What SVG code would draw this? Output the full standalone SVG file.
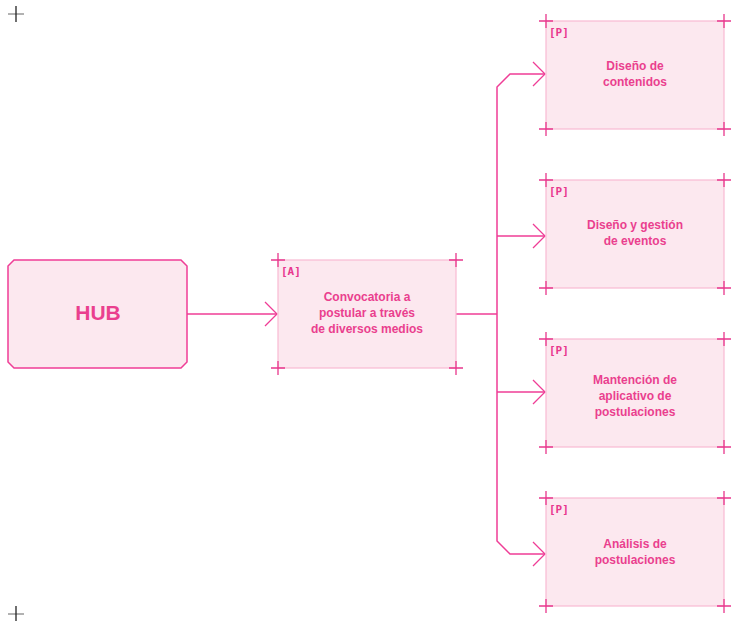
<svg xmlns="http://www.w3.org/2000/svg" width="736" height="621" viewBox="0 0 736 621">
  <style>
    .box { fill: #fce8ef; stroke: #f8b9d3; stroke-width: 1.2; }
    .hub { fill: #fce8ef; stroke: #ef3d96; stroke-width: 1.5; }
    .plus { stroke: #e8378d; stroke-width: 1.3; fill: none; }
    .tag { font-family: "DejaVu Sans Mono", monospace; font-weight: bold; font-size: 11px; fill: #e8378d; }
    .lbl { font-family: "Liberation Sans", Arial, sans-serif; font-weight: bold; font-size: 12px; fill: #ea3f8e; text-anchor: middle; }
    .hubt { font-family: "Liberation Sans", Arial, sans-serif; font-weight: bold; font-size: 21px; fill: #ea3f8e; text-anchor: middle; }
    .wire { stroke: #ef3d96; stroke-width: 1.5; fill: none; }
    .head { stroke: #ef3d96; stroke-width: 1.3; fill: none; }
  </style>
  <defs>
    <g id="corners">
      <path class="plus" d="M-7 0H7M0 -7V7"/>
    </g>
  </defs>

  <!-- page registration marks -->
  <path d="M8 14H24" stroke="#888" stroke-width="1.3"/>
  <path d="M16 6V22" stroke="#222" stroke-width="1.3"/>
  <path d="M8 614H24" stroke="#888" stroke-width="1.3"/>
  <path d="M16 606V622" stroke="#222" stroke-width="1.3"/>

  <g id="connectors">
    <path class="wire" d="M187 314H277"/>
    <path class="head" d="M265 302L277 314L265 326"/>
    <path class="wire" d="M456 314H497"/>
    <path class="wire" d="M545 74H510L497 87V541L510 554H545"/>
    <path class="wire" d="M497 236H545"/>
    <path class="wire" d="M497 392H545"/>
    <path class="head" d="M533 62L545 74L533 86"/>
    <path class="head" d="M533 224L545 236L533 248"/>
    <path class="head" d="M533 380L545 392L533 404"/>
    <path class="head" d="M533 542L545 554L533 566"/>
  </g>

  <g id="hub">
    <path class="hub" d="M14 260H181L187 266V362L181 368H14L8 362V266Z"/>
    <text class="hubt" x="98" y="320">HUB</text>
  </g>

  <g id="convocatoria">
    <rect class="box" x="278" y="260" width="178" height="108"/>
    <use href="#corners" x="278" y="260"/><use href="#corners" x="456" y="260"/>
    <use href="#corners" x="278" y="368"/><use href="#corners" x="456" y="368"/>
    <text class="tag" x="281" y="275">[A]</text>
    <text class="lbl" x="367" y="301">Convocatoria a</text>
    <text class="lbl" x="367" y="317">postular a través</text>
    <text class="lbl" x="367" y="333">de diversos medios</text>
  </g>

  <g id="diseno-contenidos">
    <rect class="box" x="546" y="21" width="178" height="108"/>
    <use href="#corners" x="546" y="21"/><use href="#corners" x="724" y="21"/>
    <use href="#corners" x="546" y="129"/><use href="#corners" x="724" y="129"/>
    <text class="tag" x="549" y="36">[P]</text>
    <text class="lbl" x="635" y="70">Diseño de</text>
    <text class="lbl" x="635" y="86">contenidos</text>
  </g>

  <g id="diseno-eventos">
    <rect class="box" x="546" y="180" width="178" height="108"/>
    <use href="#corners" x="546" y="180"/><use href="#corners" x="724" y="180"/>
    <use href="#corners" x="546" y="288"/><use href="#corners" x="724" y="288"/>
    <text class="tag" x="549" y="195">[P]</text>
    <text class="lbl" x="635" y="229">Diseño y gestión</text>
    <text class="lbl" x="635" y="245">de eventos</text>
  </g>

  <g id="mantencion">
    <rect class="box" x="546" y="339" width="178" height="108"/>
    <use href="#corners" x="546" y="339"/><use href="#corners" x="724" y="339"/>
    <use href="#corners" x="546" y="447"/><use href="#corners" x="724" y="447"/>
    <text class="tag" x="549" y="354">[P]</text>
    <text class="lbl" x="635" y="384">Mantención de</text>
    <text class="lbl" x="635" y="400">aplicativo de</text>
    <text class="lbl" x="635" y="416">postulaciones</text>
  </g>

  <g id="analisis">
    <rect class="box" x="546" y="498" width="178" height="108"/>
    <use href="#corners" x="546" y="498"/><use href="#corners" x="724" y="498"/>
    <use href="#corners" x="546" y="606"/><use href="#corners" x="724" y="606"/>
    <text class="tag" x="549" y="513">[P]</text>
    <text class="lbl" x="635" y="548">Análisis de</text>
    <text class="lbl" x="635" y="564">postulaciones</text>
  </g>
</svg>
